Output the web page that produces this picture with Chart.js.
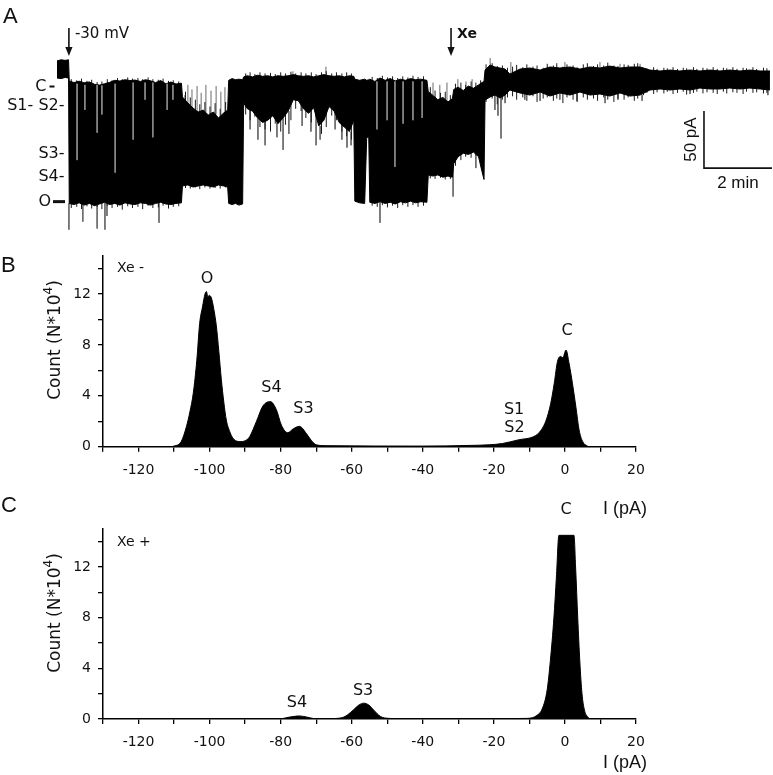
<!DOCTYPE html>
<html><head><meta charset="utf-8">
<script src="https://cdn.jsdelivr.net/npm/chart.js@4.4.0/dist/chart.umd.min.js"></script>
<style>
html,body{margin:0;padding:0;background:#fff;}
#wrap{position:relative;width:773px;height:775px;overflow:hidden;background:#fff;}
canvas{position:absolute;left:0;}
</style></head><body>
<div id="wrap">
<canvas id="cA" width="773" height="245" style="top:0px"></canvas>
<canvas id="cB" width="773" height="285" style="top:240px"></canvas>
<canvas id="cC" width="773" height="280" style="top:495px"></canvas>
</div>
<script>
// ---------- Panel A: current trace (time in min, current in pA), envelope of the noisy record ----------
const traceTime = [0.00,0.12,0.24,0.34,
 0.36,0.50,0.65,0.80,0.95,1.10,1.25,1.40,1.55,1.70,1.85,2.00,2.15,2.30,2.45,2.60,2.75,2.90,3.05,3.20,3.35,3.50,3.66,
 3.69,3.85,4.00,4.15,4.30,4.45,4.60,4.75,4.90,5.02,
 5.05,5.15,5.25,5.35,5.46,
 5.49,5.60,5.75,5.90,6.05,6.20,6.35,6.50,6.65,6.80,6.95,7.10,7.25,7.40,7.55,7.70,7.85,8.00,8.15,8.30,8.45,8.60,8.73,
 8.76,8.90,9.05,9.11,9.17,
 9.20,9.35,9.50,9.65,9.80,9.95,10.10,10.25,10.40,10.55,10.70,10.88,
 10.92,11.05,11.20,11.35,11.50,11.63,
 11.67,11.80,11.95,12.10,12.25,12.40,12.50,12.56,
 12.59,12.74,12.88,13.03,13.18,13.32,13.62,13.91,14.21,14.50,14.79,15.09,15.38,15.68,15.97,16.26,16.56,16.85,17.15,17.44,17.74,18.03,18.32,18.62,18.91,19.21,19.50,19.79,20.09,20.38,20.68,20.97];
const traceHigh = [22,23,22.5,23,
 4.5,3.0,4.2,2.8,3.6,1.5,0.8,2.0,3.2,5.0,4.4,5.5,4.8,5.2,4.0,5.5,4.6,3.0,4.8,2.0,3.5,1.8,2.5,
 -9.6,-14.9,-19.3,-22.8,-21.1,-25.4,-22.8,-28.1,-23.7,-21.1,
 5,6.5,5.5,6,5.5,
 8,9,8,9.5,8.5,9,8,9,8.5,9,10,9,8.5,9,8,9,10,9,8.5,9,8,9,8.5,
 6,5,6,5,5.5,
 6,4,7,5,6.5,4.5,6,5,6.5,5.5,6,5,
 -5,-8,-12,-10,-14,-11,
 -3,-1,-4,0,-2,1,3,4,
 14,18.4,16.7,15.8,14.9,10.5,14.9,15.8,14.0,16.7,15.8,16.7,14.9,16.7,15.8,17.5,15.8,16.7,16.7,14.0,13.2,14.0,13.2,14.0,13.2,14.0,13.2,14.0,13.2,14.0,13.2,13.2];
const traceLow = [7,6.5,7.5,7,
 -103,-104,-102.5,-104.5,-103,-105,-103.5,-102,-104,-103,-104.5,-102.5,-103.5,-104,-102.5,-103,-104.5,-103,-102,-103.5,-104,-103,-102.5,
 -87.7,-86.8,-88.6,-87.7,-86.8,-87.7,-88.6,-86.8,-87.7,-88.6,
 -103,-104,-103,-104.5,-103.5,
 -15,-20,-22,-28,-32,-30,-26,-33,-28,-22,-12,-13,-20,-24,-19,-35,-30,-18,-22,-32,-36,-40,-30,
 -101,-102.5,-103,-45,-45,
 -102,-103,-101.5,-103,-102,-103.5,-101.5,-102.5,-101,-102.5,-101.5,-102,
 -78,-79,-78,-80,-79,-80,
 -68,-62,-59,-60,-58,-62,-75,-82,
 -12.3,-9.6,-7.9,-10.5,-7.9,-3.5,-6.1,-7.9,-5.3,-8.8,-6.1,-7.9,-5.3,-7.9,-7.0,-8.8,-6.1,-8.8,-7.9,-3.5,-2.6,-3.5,-2.6,-3.5,-1.8,-2.6,-2.6,-1.8,-2.6,-1.8,-2.6,-3.5];
// short noise excursions just beyond the band edges (each one a full-height sweep)
const hairTime = [0.42,0.58,0.72,0.88,1.02,1.18,1.32,1.48,1.62,1.78,1.92,2.08,2.22,2.38,2.52,2.68,2.82,2.98,3.12,3.28,3.42,3.58,
 3.78,3.92,4.07,4.20,4.35,4.50,4.65,4.80,4.96,
 5.55,5.68,5.82,5.97,6.12,6.28,6.42,6.58,6.72,6.88,7.02,7.18,7.32,7.48,7.62,7.78,7.92,8.08,8.22,8.38,8.52,8.66,
 9.27,9.42,9.57,9.72,9.87,10.02,10.17,10.32,10.47,10.62,10.78,
 10.98,11.12,11.28,11.42,11.57,11.72,11.88,12.02,12.18,12.32,12.46,
 12.62,12.80,12.95,13.10,13.25,13.40,13.52,13.70,13.82,14.00,14.12,14.30,14.42,14.60,14.70,14.88,15.00,15.18,15.30,15.48,15.60,15.78,15.90,16.08,16.20,16.38,16.50,16.68,16.80,16.98,17.08,
 17.25,17.35,17.55,17.65,17.85,17.95,18.12,18.25,18.42,18.52,18.72,18.82,19.00,19.12,19.30,19.42,19.60,19.70,19.88,20.00,20.18,20.28,20.47,20.58,20.78,20.88];
const hairHigh = [6,5,6.5,4.5,5.5,3.5,4,6,5,7,6,7.5,6.5,7,6,7.5,6,5.5,6.5,4.5,5,4,
 -5,-10,-12,-16,-14,-18,-15,-20,-14,
 11,12,10.5,12,11,11.5,10.5,12,11,12.5,11,12,11,12,10.5,12,13,11,12,11,12,11,
 8,7,9,7.5,8.5,7,8.5,7.5,9,8,8.5,
 -1,-4,-6,-5,-8,2,3,1,4,3,5,
 19,20,17.5,18,16,17,18.5,16.5,19,17,18,16,19.5,18,20,17,19,18,16.5,19,20,17.5,19,18,20.5,18,17.5,19,18.5,19.5,20,
 16,15.5,16.5,15,16,15.5,16.5,15,16,15.5,16.5,15,16,15.5,16.5,15,16,15.5,16.5,15,16,15.5,16.5,15,16,15.5];
const hairLow = [-107,-106,-108,-105.5,-107.5,-106,-108,-105,-107,-106,-108.5,-105.5,-107,-106,-108,-105,-107,-106.5,-105,-107.5,-106,-105.5,
 -89.5,-90,-89,-90.5,-89,-90,-89.5,-90,-89,
 -25,-30,-27,-36,-38,-40,-33,-40,-34,-30,-20,-22,-28,-32,-27,-42,-36,-26,-30,-40,-44,-47,
 -105,-106,-104.5,-106.5,-105,-107,-104.5,-106,-104.5,-106,-105,
 -81,-81.5,-80.5,-82,-81.5,-70,-65,-62,-63,-61,-66,
 -14,-11,-16,-12,-10,-9,-12,-10,-13,-9,-14,-11,-10,-13,-11,-15,-10,-12,-14,-10,-12,-11,-13,-10,-12,-14,-11,-12,-10,-13,-11,
 -8,-6,-7,-5.5,-6.5,-5,-7,-6,-5,-7.5,-6,-5,-6.5,-5.5,-6,-7,-5,-6.5,-5.5,-6,-7,-5,-6,-5.5,-6.5,-6];
// isolated long excursions beyond the dense band
const spikeTime = [0.35,0.76,1.18,1.41,1.47,3.0,
 3.76,3.85,3.97,4.12,4.24,4.38,4.53,4.68,4.82,4.94,
 5.68,5.91,6.12,6.47,6.65,6.82,7.21,7.47,7.62,7.74,8.18,8.38,8.53,8.65,6.94,7.91,
 9.5,11.06,11.26,11.47,11.79,12.03,12.21,11.65,12.32,
 12.88,12.97,13.06,13.18,13.76,14.21,14.79,15.29,16.12,16.5,17.21,18.62,20.91,
 12.74,13.35,14.94,15.97,16.56,17.15];
const spikeFrom = [-103,-104,-104,-102,-103,-102,
 -12,-15,-19,-22,-21,-23,-24,-25,-26,-23,
 -20,-28,-30,-32,-28,-22,-15,-22,-20,-35,-22,-32,-36,-40,10,10,
 -102,-8,-12,-14,-1,-3,-2,-68,-60,
 -8,-10,-10,-8,-6,-5,-6,-5,-7,-6,-8,-3.5,-3,
 18,10.5,16,16,16,16.7];
const spikeTo = [-126,-119,-125,-126,-114,-120,
 -8,1,-3,0,-6,1,-4,0,-5,-1,
 -38,-47,-52,-45,-56,-42,-35,-40,-52,-47,-38,-47,-54,-52,13,17,
 -120,3,1,3,6,4,6,-97,-72,
 -21,-26,-46,-15,-12,-13,-12,-13,-15,-12,-13,-7,-8,
 24.6,21,21,21,19.5,19.5];
// less dense streaks seen inside the black band (lighter)
const streakTime = [0.59,0.82,1.18,1.32,1.71,2.24,2.59,2.82,3.24,3.41,9.41,9.71,9.94,10.18,10.47,10.74];
const streakTop = [2,1,1,0.5,2,3,3,3,2,1,4,4,4,4,4,4];
const streakBottom = [-65,-21,-41,-25,-76,-47,-12,-45,-21,-12,-38,-30,-71,-33,-30,-28];
const levelNames = ['C','S1- S2-','S3-','S4-','O'];
const levelValues = [0,-17,-59,-79,-101];
const eventTimes = [0.35,11.59];
const eventLabels = ['-30 mV','Xe'];
const scaleBarStart = 19.03;   // min
const scaleBarMin = 2;         // min
const scaleBarBase = -72;      // pA
const scaleBarPA = 50;         // pA

// ---------- Panel B: all-points histogram, Xe- ----------
const binsB = [-130,-111,-110,-108,-106.5,-105.5,-104.6,-103.6,-102.8,-102,-101.3,-100.9,-100.5,-100.1,-99.5,-98.8,-98.1,-97.4,-96.7,-96,-95.3,-94.2,-93.5,-92.5,-91.2,-89.5,-88.7,-86.8,-85,-82.9,-81.2,-79.8,-78,-76.5,-74.7,-72.8,-71.4,-70,-67,-40,-27,-21.3,-17.6,-12.9,-9.2,-7.3,-5.4,-4,-3,-2.1,-1.2,-0.6,0.3,1.2,2.1,3.1,4,5,6.3,7,20];
const countsB = [0,0,0.05,0.4,1.6,2.8,4.2,6.8,9.7,11.0,12.0,12.2,11.8,11.9,11.7,10.8,9.5,7.5,5.3,3.5,2.1,1.1,0.7,0.45,0.4,0.55,0.8,2.0,3.2,3.55,2.9,1.7,1.1,1.4,1.6,1.05,0.5,0.15,0.08,0.05,0.1,0.15,0.25,0.55,0.75,1.1,2.0,3.4,5.0,6.7,7.1,7.0,7.6,6.5,5.0,3.1,1.3,0.4,0.05,0,0];
const peakNamesB = ['O','S4','S3','S1','S2','C'];
const peakCurrentB = [-100.7,-82.6,-73.6,-14.3,-14.2,0.6];
const peakLabelCountB = [13.2,4.6,2.95,2.9,1.47,9.1];

// ---------- Panel C: all-points histogram, Xe+ ----------
const binsC = [-130,-82,-79.6,-77.5,-75.5,-74.9,-73.5,-71.5,-70.2,-66,-64.1,-62.5,-61.3,-59.4,-58,-56.6,-55.2,-53.8,-51.9,-49.6,-46,-19,-10.6,-7.8,-6.4,-5.0,-4.1,-3.1,-2.4,-1.7,2.55,3.0,3.6,4.2,4.8,5.5,6.3,7.5,20];
const countsC = [0,0,0.03,0.15,0.23,0.24,0.2,0.08,0.02,0.02,0.05,0.12,0.3,0.75,1.1,1.25,1.1,0.7,0.2,0.05,0.02,0.03,0.05,0.3,0.8,2.3,4.6,8.0,11.2,14.5,14.5,12,8,4.5,2,0.7,0.2,0,0];
const peakNamesC = ['S4','S3','C'];
const peakCurrentC = [-75.4,-56.8,0.3];
const peakLabelCountC = [1.26,2.2,16.5];

const xTicksLabelStep = 20, xTickStep = 10, yTickStep = 2, yTickLabelStep = 4;

// ---------- helpers ----------
const pairs = (xs, ys) => xs.map((x, i) => ({x: x, y: ys[i]}));
const FONT = '"DejaVu Sans", Verdana, sans-serif';
const AFONT = '"Liberation Sans", Arial, sans-serif';

function verticals(ts, from, to) {
  const pts = [];
  ts.forEach((t, i) => { pts.push({x: t, y: from[i]}, {x: t, y: to[i]}, {x: t, y: null}); });
  return pts;
}

function arrow(ctx, x, y1, y2) {
  ctx.save();
  ctx.strokeStyle = '#111'; ctx.fillStyle = '#111'; ctx.lineWidth = 1.6;
  ctx.beginPath(); ctx.moveTo(x, y1); ctx.lineTo(x, y2 - 7); ctx.stroke();
  ctx.beginPath(); ctx.moveTo(x - 3.6, y2 - 9); ctx.lineTo(x + 3.6, y2 - 9); ctx.lineTo(x, y2); ctx.closePath(); ctx.fill();
  ctx.restore();
}

function countTitle(ctx, cx, cy) {
  ctx.save(); ctx.translate(cx, cy); ctx.rotate(-Math.PI / 2);
  ctx.fillStyle = '#111';
  const f1 = '17px ' + FONT, f2 = '12px ' + FONT;
  const a = 'Count (N*10', b = '4', c = ')';
  ctx.font = f1; const wa = ctx.measureText(a).width, wc = ctx.measureText(c).width;
  ctx.font = f2; const wb = ctx.measureText(b).width;
  let x = -(wa + wb + wc) / 2;
  ctx.textBaseline = 'middle'; ctx.textAlign = 'left';
  ctx.font = f1; ctx.fillText(a, x, 0); x += wa;
  ctx.font = f2; ctx.fillText(b, x, -7); x += wb;
  ctx.font = f1; ctx.fillText(c, x, 0);
  ctx.restore();
}

// ---------- Panel A chart ----------
const overlayA = {
  id: 'overlayA',
  afterDraw(chart) {
    const ctx = chart.ctx, xs = chart.scales.x, ys = chart.scales.y;
    ctx.save();
    ctx.fillStyle = '#111'; ctx.strokeStyle = '#111';
    ctx.font = '22px ' + AFONT; ctx.textAlign = 'left'; ctx.textBaseline = 'alphabetic';
    ctx.fillText('A', 3, 23);
    eventTimes.forEach((t, i) => {
      const x = xs.getPixelForValue(t);
      arrow(ctx, x, 28, 56);
      ctx.font = (i === 1 ? 'bold 14px ' : '15px ') + FONT;
      ctx.textAlign = 'left'; ctx.textBaseline = 'middle';
      ctx.fillText(eventLabels[i], x + 6, 34);
    });
    ctx.font = '16px ' + FONT; ctx.textBaseline = 'middle';
    levelNames.forEach((n, i) => {
      const y = ys.getPixelForValue(levelValues[i]) + 0.5;
      if (n === 'C') {
        ctx.textAlign = 'right'; ctx.fillText('C', 46.5, y);
        ctx.lineWidth = 2; ctx.beginPath(); ctx.moveTo(49.5, y); ctx.lineTo(54.5, y); ctx.stroke();
      } else if (n === 'O') {
        ctx.textAlign = 'right'; ctx.fillText('O', 51, y);
        ctx.lineWidth = 3; ctx.beginPath(); ctx.moveTo(53, y); ctx.lineTo(65, y); ctx.stroke();
      } else {
        ctx.textAlign = 'right'; ctx.fillText(n, 64.5, y);
      }
    });
    // scale bar
    const x0 = xs.getPixelForValue(scaleBarStart), x1 = xs.getPixelForValue(scaleBarStart + scaleBarMin);
    const yb = ys.getPixelForValue(scaleBarBase), yt = ys.getPixelForValue(scaleBarBase + scaleBarPA);
    ctx.lineWidth = 1.6; ctx.beginPath(); ctx.moveTo(x0, yt); ctx.lineTo(x0, yb); ctx.lineTo(x1, yb); ctx.stroke();
    ctx.font = '17px ' + AFONT; ctx.textAlign = 'center'; ctx.textBaseline = 'middle';
    ctx.fillText('2 min', (x0 + x1) / 2, yb + 15);
    ctx.save(); ctx.translate(x0 - 13, (yt + yb) / 2); ctx.rotate(-Math.PI / 2);
    ctx.fillText('50 pA', 0, 0); ctx.restore();
    ctx.restore();
  }
};

// dataset index 0 is painted last (on top); the band (1,2) covers the hairs/spikes (3,4) inside it
new Chart(document.getElementById('cA'), {
  type: 'line',
  data: {datasets: [
    {data: verticals(streakTime, streakTop, streakBottom), borderColor: '#8c8c8c', borderWidth: 1, fill: false, pointRadius: 0, spanGaps: false, tension: 0},
    {data: pairs(traceTime, traceHigh), borderColor: '#000', borderWidth: 1, backgroundColor: '#000', fill: '+1', pointRadius: 0, tension: 0},
    {data: pairs(traceTime, traceLow), borderColor: '#000', borderWidth: 1, fill: false, pointRadius: 0, tension: 0},
    {data: verticals(hairTime, hairLow, hairHigh), borderColor: '#1a1a1a', borderWidth: 1, fill: false, pointRadius: 0, spanGaps: false, tension: 0},
    {data: verticals(spikeTime, spikeFrom, spikeTo), borderColor: '#6a6a6a', borderWidth: 1, fill: false, pointRadius: 0, spanGaps: false, tension: 0}
  ]},
  options: {
    responsive: false, animation: false, devicePixelRatio: 1,
    layout: {padding: {left: 57, right: 0, top: 50, bottom: 5}},
    plugins: {legend: {display: false}, tooltip: {enabled: false}},
    scales: {
      x: {type: 'linear', display: false, min: 0, max: 21.06},
      y: {type: 'linear', display: false, min: -135.1, max: 31.6}
    }
  },
  plugins: [overlayA]
});

// ---------- Histogram charts ----------
function histChart(id, offY, bins, counts, padTop, padBottom, drawExtra) {
  const ov = {
    id: 'ov' + id,
    afterDraw(chart) {
      const ctx = chart.ctx;
      ctx.save();
      drawExtra(ctx, chart.scales.x, chart.scales.y, offY);
      ctx.restore();
    }
  };
  const axisCommon = {
    border: {display: true, color: '#000', width: 1.5},
    grid: {display: true, drawOnChartArea: false, drawTicks: true, tickLength: 5, color: '#000', lineWidth: 1.3}
  };
  return new Chart(document.getElementById(id), {
    type: 'line',
    data: {datasets: [{data: pairs(bins, counts), borderColor: '#000', borderWidth: 1, backgroundColor: '#000', fill: 'origin', pointRadius: 0, cubicInterpolationMode: 'monotone'}]},
    options: {
      responsive: false, animation: false, devicePixelRatio: 1,
      layout: {padding: {left: 0, right: 137, top: padTop, bottom: padBottom}},
      plugins: {legend: {display: false}, tooltip: {enabled: false}},
      scales: {
        x: Object.assign({type: 'linear', min: -130, max: 20, afterFit(s) { s.height = 40; },
          ticks: {stepSize: xTickStep, autoSkip: false, maxRotation: 0, padding: 10, color: '#111', font: {family: FONT, size: 14},
            callback: v => (Math.abs(v % xTicksLabelStep) < 1e-9 ? String(v) : '')}}, axisCommon),
        y: Object.assign({type: 'linear', min: 0, max: 15, afterFit(s) { s.width = 103; },
          ticks: {stepSize: yTickStep, includeBounds: false, autoSkip: false, padding: 7, color: '#111', font: {family: FONT, size: 14},
            callback: v => (Math.abs(v % yTickLabelStep) < 1e-9 ? String(v) : '')}}, axisCommon)
      }
    },
    plugins: [ov]
  });
}

function peakLabels(ctx, xs, ys, names, cur, cnt) {
  ctx.fillStyle = '#111'; ctx.font = '16px ' + FONT; ctx.textAlign = 'center'; ctx.textBaseline = 'middle';
  names.forEach((n, i) => ctx.fillText(n, xs.getPixelForValue(cur[i]), ys.getPixelForValue(cnt[i])));
}

histChart('cB', 240, binsB, countsB, 16, 38.3, (ctx, xs, ys, off) => {
  ctx.fillStyle = '#111';
  ctx.font = '22px ' + AFONT; ctx.textAlign = 'left'; ctx.textBaseline = 'alphabetic';
  ctx.fillText('B', 1, 272 - off);
  ctx.font = '14px ' + FONT; ctx.textBaseline = 'middle';
  ctx.fillText('Xe -', 117, 268 - off);
  peakLabels(ctx, xs, ys, peakNamesB, peakCurrentB, peakLabelCountB);
  ctx.font = '18px ' + AFONT; ctx.textAlign = 'center'; ctx.textBaseline = 'middle';
  ctx.fillText('I (pA)', 625, 509 - off);
  countTitle(ctx, 56, 340 - off);
});

histChart('cC', 495, binsC, countsC, 34, 16, (ctx, xs, ys, off) => {
  ctx.fillStyle = '#111';
  ctx.font = '22px ' + AFONT; ctx.textAlign = 'left'; ctx.textBaseline = 'alphabetic';
  ctx.fillText('C', 1, 512 - off);
  ctx.font = '14px ' + FONT; ctx.textBaseline = 'middle';
  ctx.fillText('Xe +', 117, 542 - off);
  peakLabels(ctx, xs, ys, peakNamesC, peakCurrentC, peakLabelCountC);
  ctx.font = '18px ' + AFONT; ctx.textAlign = 'center'; ctx.textBaseline = 'middle';
  ctx.fillText('I (pA)', 625, 763 - off);
  countTitle(ctx, 56, 613 - off);
});
</script>
</body></html>
